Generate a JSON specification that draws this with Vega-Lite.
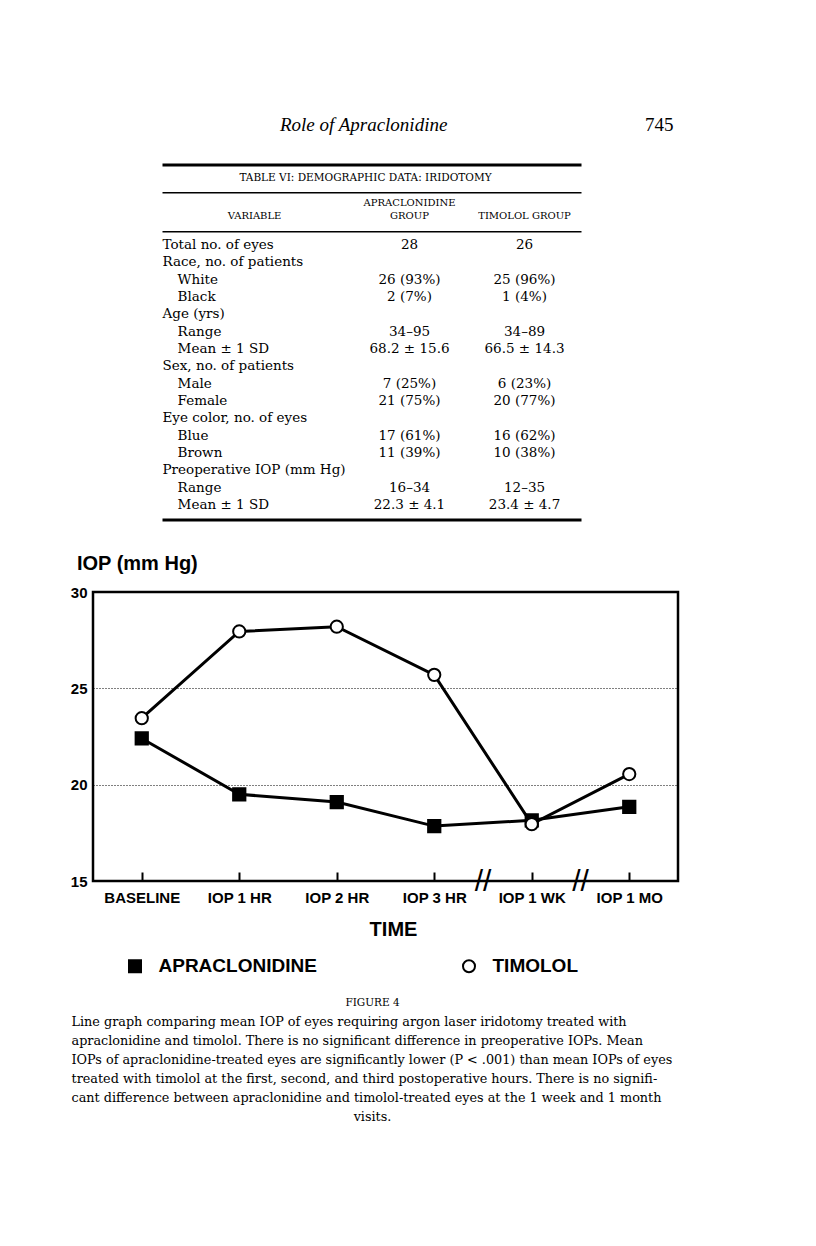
{
  "$schema": "https://vega.github.io/schema/vega-lite/v6.json",
  "background": "white",
  "padding": {"left": 69, "top": 0, "right": 0, "bottom": 0},
  "bounds": "flush",
  "spacing": 47,
  "config": {"view": {"stroke": null}, "text": {"color": "black"}},
  "vconcat": [
    {
      "width": 585,
      "height": 545,
      "data": {"values": [
        {"row": 1, "label": "Total no. of eyes", "level": 0, "apra": "28", "tim": "26"},
        {"row": 2, "label": "Race, no. of patients", "level": 0},
        {"row": 3, "label": "White", "level": 1, "apra": "26 (93%)", "tim": "25 (96%)"},
        {"row": 4, "label": "Black", "level": 1, "apra": "2 (7%)", "tim": "1 (4%)"},
        {"row": 5, "label": "Age (yrs)", "level": 0},
        {"row": 6, "label": "Range", "level": 1, "apra": "34–95", "tim": "34–89"},
        {"row": 7, "label": "Mean ± 1 SD", "level": 1, "apra": "68.2 ± 15.6", "tim": "66.5 ± 14.3"},
        {"row": 8, "label": "Sex, no. of patients", "level": 0},
        {"row": 9, "label": "Male", "level": 1, "apra": "7 (25%)", "tim": "6 (23%)"},
        {"row": 10, "label": "Female", "level": 1, "apra": "21 (75%)", "tim": "20 (77%)"},
        {"row": 11, "label": "Eye color, no. of eyes", "level": 0},
        {"row": 12, "label": "Blue", "level": 1, "apra": "17 (61%)", "tim": "16 (62%)"},
        {"row": 13, "label": "Brown", "level": 1, "apra": "11 (39%)", "tim": "10 (38%)"},
        {"row": 14, "label": "Preoperative IOP (mm Hg)", "level": 0},
        {"row": 15, "label": "Range", "level": 1, "apra": "16–34", "tim": "12–35"},
        {"row": 16, "label": "Mean ± 1 SD", "level": 1, "apra": "22.3 ± 4.1", "tim": "23.4 ± 4.7"}
      ]},
      "layer": [
        {
          "transform": [{"filter": "datum.level == 0"}],
          "mark": {"type": "text", "align": "left", "baseline": "middle", "font": "DejaVu Serif", "fontSize": 13.5},
          "encoding": {
            "x": {"datum": 0, "type": "quantitative", "scale": {"domain": [0, 1], "range": [69.5, 488.5], "nice": false, "zero": false}, "axis": null},
            "y": {"field": "row", "type": "quantitative", "scale": {"domain": [-13.137, 18.311], "reverse": true, "nice": false, "zero": false}, "axis": null},
            "text": {"field": "label"}
          }
        },
        {
          "transform": [{"filter": "datum.level == 1"}],
          "mark": {"type": "text", "align": "left", "baseline": "middle", "font": "DejaVu Serif", "fontSize": 13.5},
          "encoding": {
            "x": {"datum": 0.036, "type": "quantitative"},
            "y": {"field": "row", "type": "quantitative"},
            "text": {"field": "label"}
          }
        },
        {
          "transform": [{"filter": "isValid(datum.apra)"}],
          "mark": {"type": "text", "align": "center", "baseline": "middle", "font": "DejaVu Serif", "fontSize": 13.5},
          "encoding": {
            "x": {"datum": 0.5895, "type": "quantitative"},
            "y": {"field": "row", "type": "quantitative"},
            "text": {"field": "apra"}
          }
        },
        {
          "transform": [{"filter": "isValid(datum.tim)"}],
          "mark": {"type": "text", "align": "center", "baseline": "middle", "font": "DejaVu Serif", "fontSize": 13.5},
          "encoding": {
            "x": {"datum": 0.864, "type": "quantitative"},
            "y": {"field": "row", "type": "quantitative"},
            "text": {"field": "tim"}
          }
        },
        {
          "data": {"values": [{"t": "Role of Apraclonidine"}]},
          "mark": {"type": "text", "align": "center", "baseline": "middle", "font": "Liberation Serif", "fontStyle": "italic", "fontSize": 19},
          "encoding": {
            "x": {"datum": 0.48, "type": "quantitative"},
            "y": {"datum": -5.924, "type": "quantitative"},
            "text": {"field": "t"}
          }
        },
        {
          "data": {"values": [{"t": "745"}]},
          "mark": {"type": "text", "align": "right", "baseline": "middle", "font": "Liberation Serif", "fontSize": 19},
          "encoding": {
            "x": {"datum": 1.2196, "type": "quantitative"},
            "y": {"datum": -5.924, "type": "quantitative"},
            "text": {"field": "t"}
          }
        },
        {
          "data": {"values": [{"t": "TABLE VI: DEMOGRAPHIC DATA: IRIDOTOMY"}]},
          "mark": {"type": "text", "align": "center", "baseline": "middle", "font": "DejaVu Serif", "fontSize": 10.5},
          "encoding": {
            "x": {"datum": 0.4845, "type": "quantitative"},
            "y": {"datum": -2.883, "type": "quantitative"},
            "text": {"field": "t"}
          }
        },
        {
          "data": {"values": [{"t": "APRACLONIDINE"}]},
          "mark": {"type": "text", "align": "center", "baseline": "middle", "font": "DejaVu Serif", "fontSize": 10},
          "encoding": {
            "x": {"datum": 0.5895, "type": "quantitative"},
            "y": {"datum": -1.395, "type": "quantitative"},
            "text": {"field": "t"}
          }
        },
        {
          "data": {"values": [{"t": "GROUP"}]},
          "mark": {"type": "text", "align": "center", "baseline": "middle", "font": "DejaVu Serif", "fontSize": 10},
          "encoding": {
            "x": {"datum": 0.5895, "type": "quantitative"},
            "y": {"datum": -0.645, "type": "quantitative"},
            "text": {"field": "t"}
          }
        },
        {
          "data": {"values": [{"t": "VARIABLE"}]},
          "mark": {"type": "text", "align": "center", "baseline": "middle", "font": "DejaVu Serif", "fontSize": 10},
          "encoding": {
            "x": {"datum": 0.2196, "type": "quantitative"},
            "y": {"datum": -0.645, "type": "quantitative"},
            "text": {"field": "t"}
          }
        },
        {
          "data": {"values": [{"t": "TIMOLOL GROUP"}]},
          "mark": {"type": "text", "align": "center", "baseline": "middle", "font": "DejaVu Serif", "fontSize": 10},
          "encoding": {
            "x": {"datum": 0.864, "type": "quantitative"},
            "y": {"datum": -0.645, "type": "quantitative"},
            "text": {"field": "t"}
          }
        },
        {
          "data": {"values": [{"r": -3.616}, {"r": 16.869}]},
          "mark": {"type": "rule", "color": "black", "strokeWidth": 3},
          "encoding": {
            "x": {"datum": 0, "type": "quantitative"},
            "x2": {"datum": 1},
            "y": {"field": "r", "type": "quantitative"}
          }
        },
        {
          "data": {"values": [{"r": -2.018}, {"r": 0.233}]},
          "mark": {"type": "rule", "color": "black", "strokeWidth": 1.5},
          "encoding": {
            "x": {"datum": 0, "type": "quantitative"},
            "x2": {"datum": 1},
            "y": {"field": "r", "type": "quantitative"}
          }
        }
      ]
    },
    {
      "width": 585,
      "height": 289,
      "view": {"stroke": "black", "strokeWidth": 2.5},
      "data": {"values": [
        {"series": "APRACLONIDINE", "time": "BASELINE", "iop": 22.4},
        {"series": "APRACLONIDINE", "time": "IOP 1 HR", "iop": 19.5},
        {"series": "APRACLONIDINE", "time": "IOP 2 HR", "iop": 19.1},
        {"series": "APRACLONIDINE", "time": "IOP 3 HR", "iop": 17.85},
        {"series": "APRACLONIDINE", "time": "IOP 1 WK", "iop": 18.15},
        {"series": "APRACLONIDINE", "time": "IOP 1 MO", "iop": 18.85},
        {"series": "TIMOLOL", "time": "BASELINE", "iop": 23.45},
        {"series": "TIMOLOL", "time": "IOP 1 HR", "iop": 27.95},
        {"series": "TIMOLOL", "time": "IOP 2 HR", "iop": 28.2},
        {"series": "TIMOLOL", "time": "IOP 3 HR", "iop": 25.7},
        {"series": "TIMOLOL", "time": "IOP 1 WK", "iop": 17.95},
        {"series": "TIMOLOL", "time": "IOP 1 MO", "iop": 20.55}
      ]},
      "layer": [
        {
          "mark": {"type": "line", "color": "black", "strokeWidth": 3},
          "encoding": {
            "x": {
              "field": "time", "type": "ordinal", "sort": null,
              "scale": {"type": "point", "padding": 0.5, "domain": ["BASELINE", "IOP 1 HR", "IOP 2 HR", "IOP 3 HR", "IOP 1 WK", "IOP 1 MO"]},
              "axis": {
                "title": "TIME", "titleFont": "Liberation Sans", "titleFontSize": 20, "titleFontWeight": "bold", "titleColor": "black",
                "titleX": 300, "titleY": 48, "titleAlign": "center", "titleBaseline": "middle",
                "labelFont": "Liberation Sans", "labelFontSize": 15, "labelFontWeight": "bold", "labelColor": "black",
                "labelAngle": 0, "labelPadding": 18, "labelBaseline": "top",
                "ticks": true, "tickSize": -9, "tickColor": "black", "tickWidth": 2,
                "domain": false, "grid": false
              }
            },
            "y": {
              "field": "iop", "type": "quantitative",
              "scale": {"domain": [15, 30], "nice": false, "zero": false},
              "axis": {
                "title": "IOP (mm Hg)", "titleAngle": 0, "titleX": -16.5, "titleY": -29, "titleAlign": "left", "titleBaseline": "middle",
                "titleFont": "Liberation Sans", "titleFontSize": 20, "titleFontWeight": "bold", "titleColor": "black",
                "values": [15, 20, 25, 30],
                "labelFont": "Liberation Sans", "labelFontSize": 15, "labelFontWeight": "bold", "labelColor": "black",
                "labelPadding": 6, "labelFlush": false, "ticks": false, "domain": false,
                "grid": true, "gridColor": "black", "gridDash": [1, 2], "gridWidth": 1, "gridOpacity": 1
              }
            },
            "detail": {"field": "series"}
          }
        },
        {
          "mark": {"type": "point", "strokeWidth": 2, "opacity": 1, "fillOpacity": 1, "strokeOpacity": 1, "size": 150},
          "encoding": {
            "x": {"field": "time", "type": "ordinal", "sort": null},
            "y": {"field": "iop", "type": "quantitative"},
            "shape": {
              "field": "series", "type": "nominal",
              "scale": {"domain": ["APRACLONIDINE", "TIMOLOL"], "range": ["square", "circle"]},
              "legend": {
                "orient": "none", "legendX": 32.5, "legendY": 956.5, "direction": "horizontal", "title": null,
                "labelFont": "Liberation Sans", "labelFontSize": 19, "labelFontWeight": "bold", "labelColor": "black", "labelLimit": 500,
                "symbolSize": 144, "symbolStrokeWidth": 2, "labelOffset": 14, "columnPadding": 141
              }
            },
            "fill": {
              "field": "series", "type": "nominal",
              "scale": {"domain": ["APRACLONIDINE", "TIMOLOL"], "range": ["black", "white"]},
              "legend": {
                "orient": "none", "legendX": 32.5, "legendY": 956.5, "direction": "horizontal", "title": null,
                "labelFont": "Liberation Sans", "labelFontSize": 19, "labelFontWeight": "bold", "labelColor": "black", "labelLimit": 500,
                "symbolSize": 144, "symbolStrokeWidth": 2, "labelOffset": 14, "columnPadding": 141
              }
            },
            "stroke": {
              "field": "series", "type": "nominal",
              "scale": {"domain": ["APRACLONIDINE", "TIMOLOL"], "range": ["black", "black"]},
              "legend": {
                "orient": "none", "legendX": 32.5, "legendY": 956.5, "direction": "horizontal", "title": null,
                "labelFont": "Liberation Sans", "labelFontSize": 19, "labelFontWeight": "bold", "labelColor": "black", "labelLimit": 500,
                "symbolSize": 144, "symbolStrokeWidth": 2, "labelOffset": 14, "columnPadding": 141
              }
            }
          }
        },
        {
          "data": {"values": [{"after": "IOP 3 HR"}, {"after": "IOP 1 WK"}]},
          "mark": {"type": "text", "text": "//", "font": "Liberation Sans", "fontSize": 30, "align": "center", "baseline": "middle", "dx": 48.75, "dy": 1},
          "encoding": {
            "x": {"field": "after", "type": "ordinal", "sort": null},
            "y": {"datum": 15, "type": "quantitative"}
          }
        }
      ]
    },
    {
      "width": 585,
      "height": 318,
      "data": {"values": [
        {"line": 0, "kind": "head", "text": "FIGURE 4"},
        {"line": 1, "kind": "body", "text": "Line graph comparing mean IOP of eyes requiring argon laser iridotomy treated with"},
        {"line": 2, "kind": "body", "text": "apraclonidine and timolol. There is no significant difference in preoperative IOPs. Mean"},
        {"line": 3, "kind": "body", "text": "IOPs of apraclonidine-treated eyes are significantly lower (P < .001) than mean IOPs of eyes"},
        {"line": 4, "kind": "body", "text": "treated with timolol at the first, second, and third postoperative hours. There is no signifi-"},
        {"line": 5, "kind": "body", "text": "cant difference between apraclonidine and timolol-treated eyes at the 1 week and 1 month"},
        {"line": 6, "kind": "end", "text": "visits."}
      ]},
      "layer": [
        {
          "transform": [{"filter": "datum.kind == 'head'"}],
          "mark": {"type": "text", "align": "center", "baseline": "middle", "font": "DejaVu Serif", "fontSize": 10.5},
          "encoding": {
            "x": {"datum": 0.5, "type": "quantitative", "scale": {"domain": [0, 1], "range": [-21.5, 580.5], "nice": false, "zero": false}, "axis": null},
            "y": {"field": "line", "type": "quantitative", "scale": {"domain": [-3.947, 12.789], "reverse": true, "nice": false, "zero": false}, "axis": null},
            "text": {"field": "text"}
          }
        },
        {
          "transform": [{"filter": "datum.kind == 'body'"}],
          "mark": {"type": "text", "align": "left", "baseline": "middle", "font": "DejaVu Serif", "fontSize": 12.8},
          "encoding": {
            "x": {"datum": 0, "type": "quantitative"},
            "y": {"field": "line", "type": "quantitative"},
            "text": {"field": "text"}
          }
        },
        {
          "transform": [{"filter": "datum.kind == 'end'"}],
          "mark": {"type": "text", "align": "center", "baseline": "middle", "font": "DejaVu Serif", "fontSize": 12.8},
          "encoding": {
            "x": {"datum": 0.5, "type": "quantitative"},
            "y": {"field": "line", "type": "quantitative"},
            "text": {"field": "text"}
          }
        }
      ]
    }
  ]
}
